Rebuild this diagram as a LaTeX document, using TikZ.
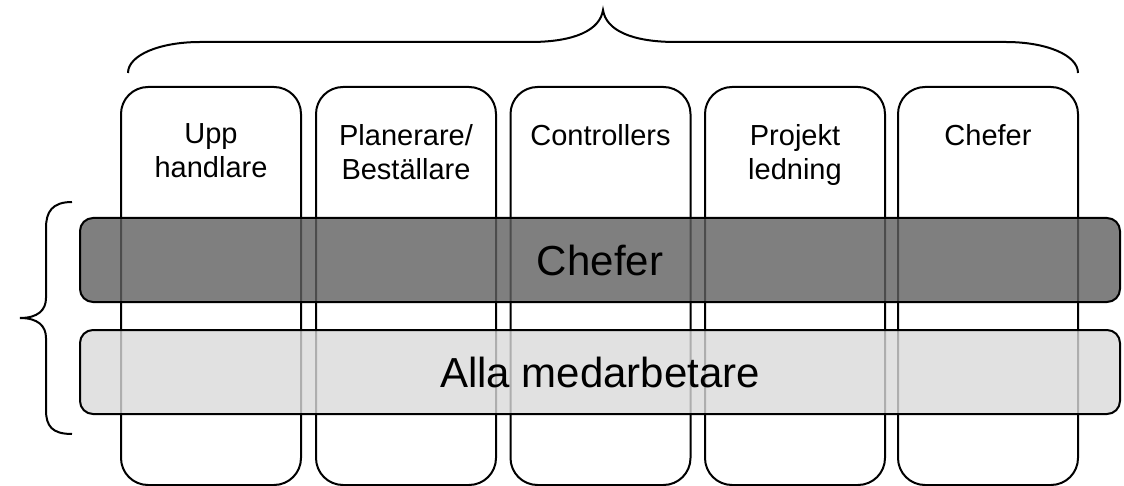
\documentclass[tikz,border=0pt]{standalone}
\usepackage{fontspec}
\setmainfont{Liberation Sans}
\begin{document}
\begin{tikzpicture}[x=1pt,y=-1pt,
  line width=2pt,
  colbox/.style={draw=black, rounded corners=27pt, minimum width=180pt, minimum height=398pt, inner sep=0pt},
  coltext/.style={anchor=north, inner sep=0pt, align=center, font=\fontsize{29}{34}\selectfont},
  barbox/.style={draw=black, draw opacity=1, fill opacity=0.8, text opacity=1, rounded corners=13pt,
     minimum width=1040pt, minimum height=84pt, inner sep=0pt, font=\fontsize{42}{50}\selectfont},
  bracepath/.style={draw=black, line width=2pt}
]
\useasboundingbox (0,0) rectangle (1124,486);

% columns
\node[colbox] (c1) at (211,286) {};
\node[colbox] (c2) at (406,286) {};
\node[colbox] (c3) at (600.5,286) {};
\node[colbox] (c4) at (795,286) {};
\node[colbox] (c5) at (988,286) {};

% column labels
\node[coltext] (t1) at (211,123) {Upp\\handlare};
\node[coltext] (t2) at (406,123) {Planerare/\\Beställare};
\node[coltext] (t3) at (600.5,123) {Controllers};
\node[coltext] (t4) at (795,123) {Projekt\\ledning};
\node[coltext] (t5) at (988,123) {Chefer};

% bars
\node[barbox, fill={rgb,255:red,95;green,95;blue,95}] (chefbar) at (600,260) {Chefer};
\node[barbox, fill={rgb,255:red,217;green,217;blue,217}] (allbar) at (600,372) {Alla medarbetare};

% top brace
\draw[bracepath] (128,73) .. controls (128,55) and (160,42) .. (200,42) -- (530,42)
  .. controls (575,42) and (600,30) .. (603,10)
  .. controls (606,30) and (631,42) .. (676,42) -- (1006,42)
  .. controls (1046,42) and (1078,55) .. (1078,73);

% left brace
\draw[bracepath] (72,202) .. controls (52,202) and (46,212) .. (46,228) -- (46,298)
  .. controls (46,310) and (38,318) .. (20,318)
  .. controls (38,318) and (46,326) .. (46,338) -- (46,410)
  .. controls (46,426) and (52,434) .. (72,434);
\end{tikzpicture}
\end{document}
